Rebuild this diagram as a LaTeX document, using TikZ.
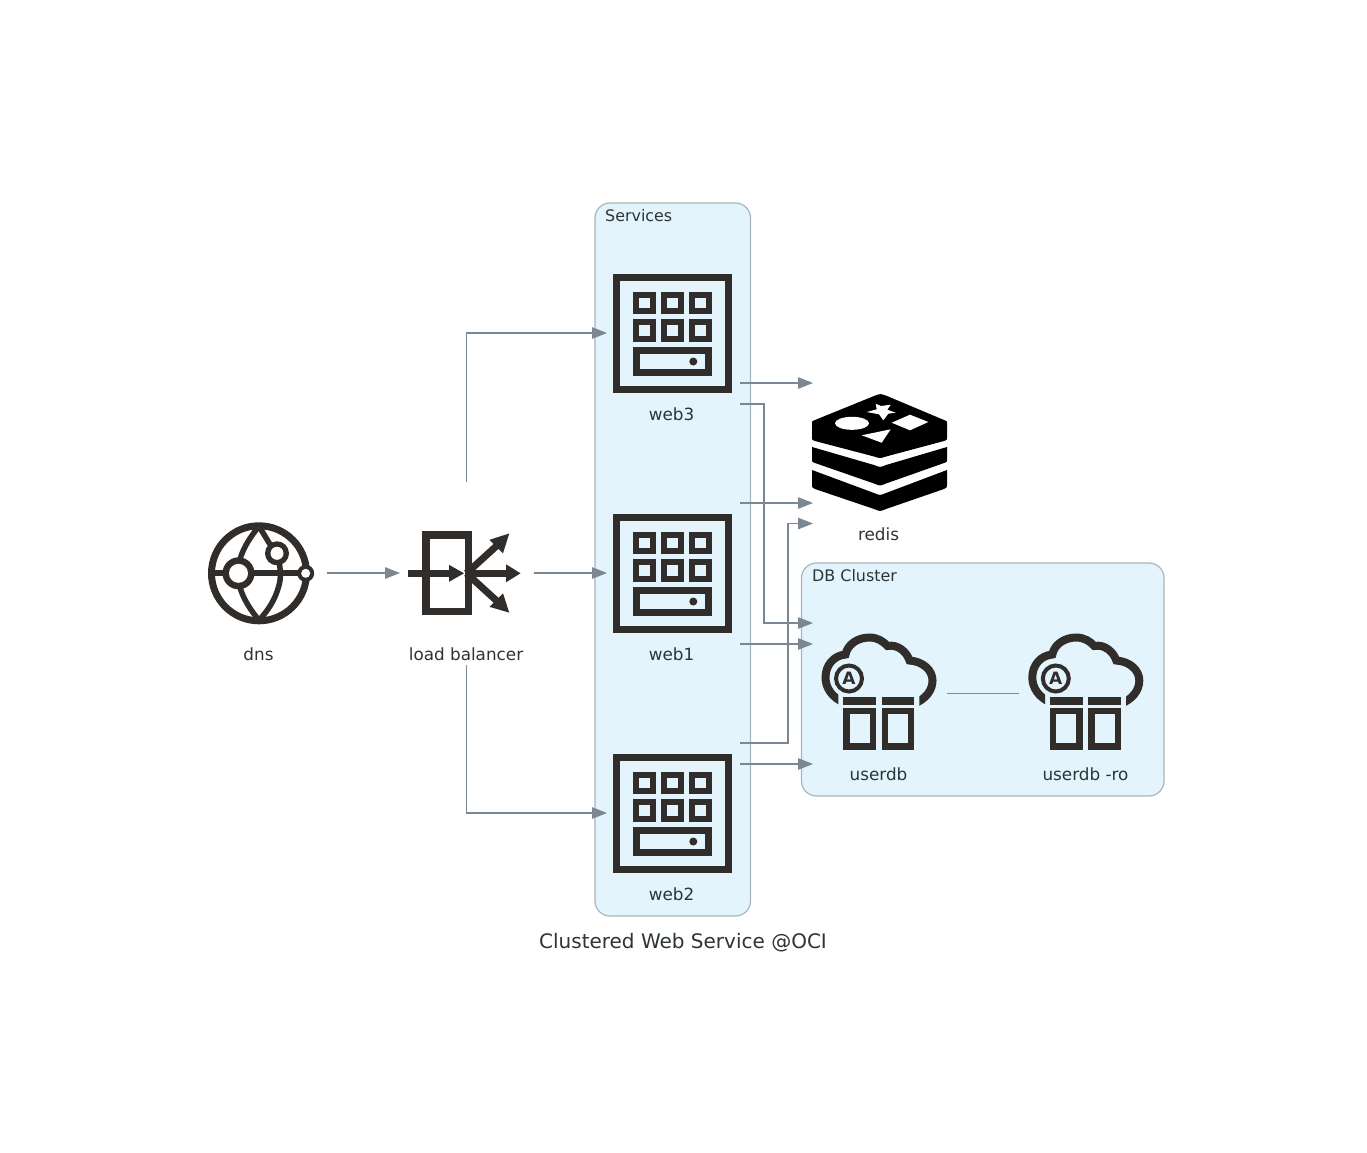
\documentclass[tikz,border=0pt]{standalone}
\usepackage{fontspec}
\setmainfont{DejaVu Sans}
\usetikzlibrary{arrows.meta}
\definecolor{icon}{HTML}{312D2A}
\definecolor{clfill}{HTML}{E3F4FD}
\definecolor{clline}{HTML}{AAB5C0}
\definecolor{edge}{HTML}{7B8894}
\definecolor{txt}{HTML}{2D3436}
\tikzset{
  x=1pt,y=-1pt,
  iconbox/.style={minimum width=120pt,minimum height=120pt,inner sep=0pt,outer sep=0pt},
  lbl/.style={anchor=base,text=txt,font=\fontsize{16.8}{20}\selectfont,inner sep=0pt},
  cltitle/.style={anchor=base west,text=txt,font=\fontsize{15.9}{19}\selectfont,inner sep=0pt},
  maintitle/.style={anchor=base,text=txt,font=\fontsize{20}{24}\selectfont,inner sep=0pt},
  cluster/.style={draw=clline,fill=clfill,line width=1.2pt,rounded corners=15pt},
  conn/.style={draw=edge,line width=1.1pt},
  arr/.style={conn,-{Triangle[length=15pt,width=11.5pt,fill=edge]}},
  ic/.style={draw=icon,line width=7.3pt},
  icf/.style={fill=icon,draw=none},
}
\newcommand{\serverglyph}[1]{%
  \begin{scope}[shift={(#1)}]
    \draw[ic] (-56.2,-56.3) rectangle (56.2,56.3);
    \foreach \cx in {-28,0,28}{
      \foreach \cy in {-30.5,-3}{
        \draw[icon,line width=6pt] (\cx-8.2,\cy-8.2) rectangle (\cx+8.2,\cy+8.2);
      }
    }
    \draw[ic] (-36.2,17) rectangle (36.2,39);
    \fill[icon] (20.8,28) circle[radius=4];
  \end{scope}}
\newcommand{\cloudglyph}[1]{%
  \begin{scope}[shift={(#1)}]
    \begin{scope}
    \clip (-60,-60) -- (60,-60) -- (60,40) -- (40.8,40) -- (40.8,10) -- (-40.2,10) -- (-40.2,40) -- (-60,40) -- cycle;
    \draw[icon,line width=8pt] (-33,25)
      .. controls (-47,19) and (-53,9) .. (-53,-1)
      .. controls (-53,-13) and (-45,-23) .. (-33,-24)
      .. controls (-31,-34) and (-21,-41) .. (-9,-41)
      .. controls (-1,-41) and (5,-37) .. (9,-32.5)
      .. controls (19,-34.5) and (28,-27) .. (31,-18)
      .. controls (45,-17) and (54,-8) .. (54,2)
      .. controls (54,12) and (47,21) .. (34,26);
    \end{scope}
    \draw[icon,line width=4pt] (-29.5,0) circle[radius=13];
    \node[font=\bfseries\fontsize{17}{17}\selectfont,text=icon,inner sep=0pt] at (-29.5,0) {A};
    \fill[icon] (-35.2,18.5) rectangle (-2.5,26);
    \fill[icon] (3,18.5) rectangle (35.8,26);
    \draw[icon,line width=6.3pt] (-32,32.6) rectangle (-5.7,67.9);
    \draw[icon,line width=6.3pt] (6.2,32.6) rectangle (32.6,67.9);
  \end{scope}}
\begin{document}
\begin{tikzpicture}
\useasboundingbox (0,0) rectangle (1367,1152);
\fill[white] (0,0) rectangle (1367,1152);

% clusters
\path[cluster] (595,203) rectangle (750.5,916);
\node[cltitle] (svc) at (605,221) {Services};
\path[cluster] (801.5,563) rectangle (1164,796);
\node[cltitle] (dbc) at (812,581) {DB Cluster};

% icon anchor nodes
\node[iconbox] (dns) at (259,573) {};
\node[iconbox] (lb) at (466.5,573) {};
\node[iconbox] (web3) at (672.5,333) {};
\node[iconbox] (web1) at (672.5,573) {};
\node[iconbox] (web2) at (672.5,813) {};
\node[iconbox] (redis) at (879.5,453) {};
\node[iconbox] (userdb) at (878.5,693) {};
\node[iconbox] (userdbro) at (1085.5,693) {};

% dns glyph
\begin{scope}[shift={(259,573.3)}]
  \draw[icon,line width=7pt] (0,0) circle[radius=47.5];
  \draw[icon,line width=5.5pt] (0,-47) .. controls (-14,-30) and (-21,-15) .. (-21,0) .. controls (-21,15) and (-14,30) .. (0,47);
  \draw[icon,line width=5.5pt] (0,-47) -- (14,-24);
  \draw[icon,line width=5.5pt] (19,-15) .. controls (22,-5) and (22,5) .. (20,12) .. controls (16,27) and (9,37) .. (0,47);
  \draw[icon,line width=6pt] (-45,0) -- (42,0);
  \fill[icon] (-20.5,0) circle[radius=16];
  \fill[white] (-20.5,0) circle[radius=9.5];
  \fill[icon] (18,-20) circle[radius=12];
  \fill[white] (18,-20) circle[radius=6.5];
  \fill[icon] (46.7,0) circle[radius=8.5];
  \fill[white] (46.7,0) circle[radius=4.5];
\end{scope}

% load balancer glyph
\begin{scope}[shift={(466.5,573.3)}]
  \draw[ic] (-40.5,-38.3) rectangle (1.8,38.3);
  \draw[icon,line width=7pt] (-59,0) -- (-15,0);
  \fill[icon] (-17.5,-8.5) -- (-2.5,0) -- (-17.5,8.5) -- cycle;
  \draw[icon,line width=7pt] (0,0) -- (42,0);
  \fill[icon] (39.5,-9) -- (54,0) -- (39.5,9) -- cycle;
  \draw[icon,line width=7pt] (0,0) -- (34,-31);
  \fill[icon] (42.7,-39.8) -- (36.5,-20) -- (23,-33.5) -- cycle;
  \draw[icon,line width=7pt] (0,0) -- (34,31);
  \fill[icon] (42.7,39.3) -- (36.5,20) -- (23,33.5) -- cycle;
\end{scope}

\serverglyph{672.5,333.5}
\serverglyph{672.5,573.5}
\serverglyph{672.5,813.5}

% redis glyph
\fill[black] (812,470) -- (874,493) .. controls (880,495.5) .. (886,493) -- (947,470) -- (947,485) .. controls (947,487.5) .. (944,489) -- (886,509) .. controls (880,511.5) .. (874,509) -- (815,489) .. controls (812,487.5) .. (812,485) -- cycle;
\fill[black] (812,447) -- (874,465) .. controls (880,467.5) .. (886,465) -- (947,447) -- (947,460) .. controls (947,462) .. (944,463) -- (886,483.5) .. controls (880,486) .. (874,483.5) -- (815,463) .. controls (812,462) .. (812,460) -- cycle;
\fill[black] (812,423) .. controls (812,421) .. (815,420) -- (874,396) .. controls (880.5,393.5) .. (887,396) -- (944,420) .. controls (947,421) .. (947,423) -- (947,438) .. controls (947,440) .. (944,441) -- (886,456.5) .. controls (880,458.5) .. (874,456.5) -- (815,441) .. controls (812,440) .. (812,438) -- cycle;
\fill[white] (852,423.3) ellipse[x radius=17,y radius=6.5];
\fill[white] (891.7,422.7) -- (910,414.7) -- (928.3,422) -- (910,430.3) -- cycle;
\fill[white] (861.7,435.3) -- (890.7,429.3) -- (881.7,442.7) -- cycle;
\fill[white] (875.7,403.7) -- (881,406) -- (890.7,404.7) -- (887.3,409.7) -- (895.7,412.7) -- (888.3,413.7) -- (883.3,420.3) -- (879,414.3) -- (866.7,412) -- (876.7,409.3) -- cycle;

\cloudglyph{878.5,678.5}
\cloudglyph{1085.3,678.5}

% labels
\node[lbl] (ldns) at (258.5,660) {dns};
\node[lbl] (llb) at (466,660) {load balancer};
\node[lbl] (lw3) at (671.5,420) {web3};
\node[lbl] (lw1) at (671.5,660) {web1};
\node[lbl] (lw2) at (671.5,900) {web2};
\node[lbl] (lredis) at (878.5,540) {redis};
\node[lbl] (ludb) at (878.5,780) {userdb};
\node[lbl] (lro) at (1085.5,780) {userdb -ro};
\node[maintitle] (title) at (683,948.5) {Clustered Web Service @OCI};

% named connector ends
\coordinate (lbup) at ([shift={(0,-31)}]lb.north);
\coordinate (lbdown) at ([shift={(0,32)}]lb.south);
\coordinate (w3a) at ([shift={(7.5,50)}]web3.east);
\coordinate (w3b) at ([shift={(7.5,71)}]web3.east);
\coordinate (w1a) at ([shift={(7.5,-70)}]web1.east);
\coordinate (w1b) at ([shift={(7.5,71)}]web1.east);
\coordinate (w2a) at ([shift={(7.5,-70)}]web2.east);
\coordinate (w2b) at ([shift={(7.5,-49)}]web2.east);
\coordinate (ra) at ([shift={(-6.5,-70)}]redis.west);
\coordinate (rb) at ([shift={(-6.5,50)}]redis.west);
\coordinate (rc) at ([shift={(-6.5,70.5)}]redis.west);
\coordinate (ua) at ([shift={(-5.5,-70)}]userdb.west);
\coordinate (ub) at ([shift={(-5.5,-49)}]userdb.west);
\coordinate (uc) at ([shift={(-5.5,71)}]userdb.west);

% connectors
\draw[arr] ([xshift=8pt]dns.east) -- ([xshift=-6.5pt]lb.west);
\draw[arr] ([xshift=7.5pt]lb.east) -- ([xshift=-5.5pt]web1.west);
\draw[arr] (lbup) |- ([xshift=-5.5pt]web3.west);
\draw[arr] (lbdown) |- ([xshift=-5.5pt]web2.west);
\draw[arr] (w3a) -- (ra);
\draw[arr] (w3b) -- ++(24,0) |- (ua);
\draw[arr] (w1a) -- (rb);
\draw[arr] (w1b) -- (ub);
\draw[arr] (w2a) -- ++(48,0) |- (rc);
\draw[arr] (w2b) -- (uc);
\draw[conn,line width=1pt] ([xshift=8.5pt]userdb.east) -- ([xshift=-6.5pt]userdbro.west);
\end{tikzpicture}
\end{document}
